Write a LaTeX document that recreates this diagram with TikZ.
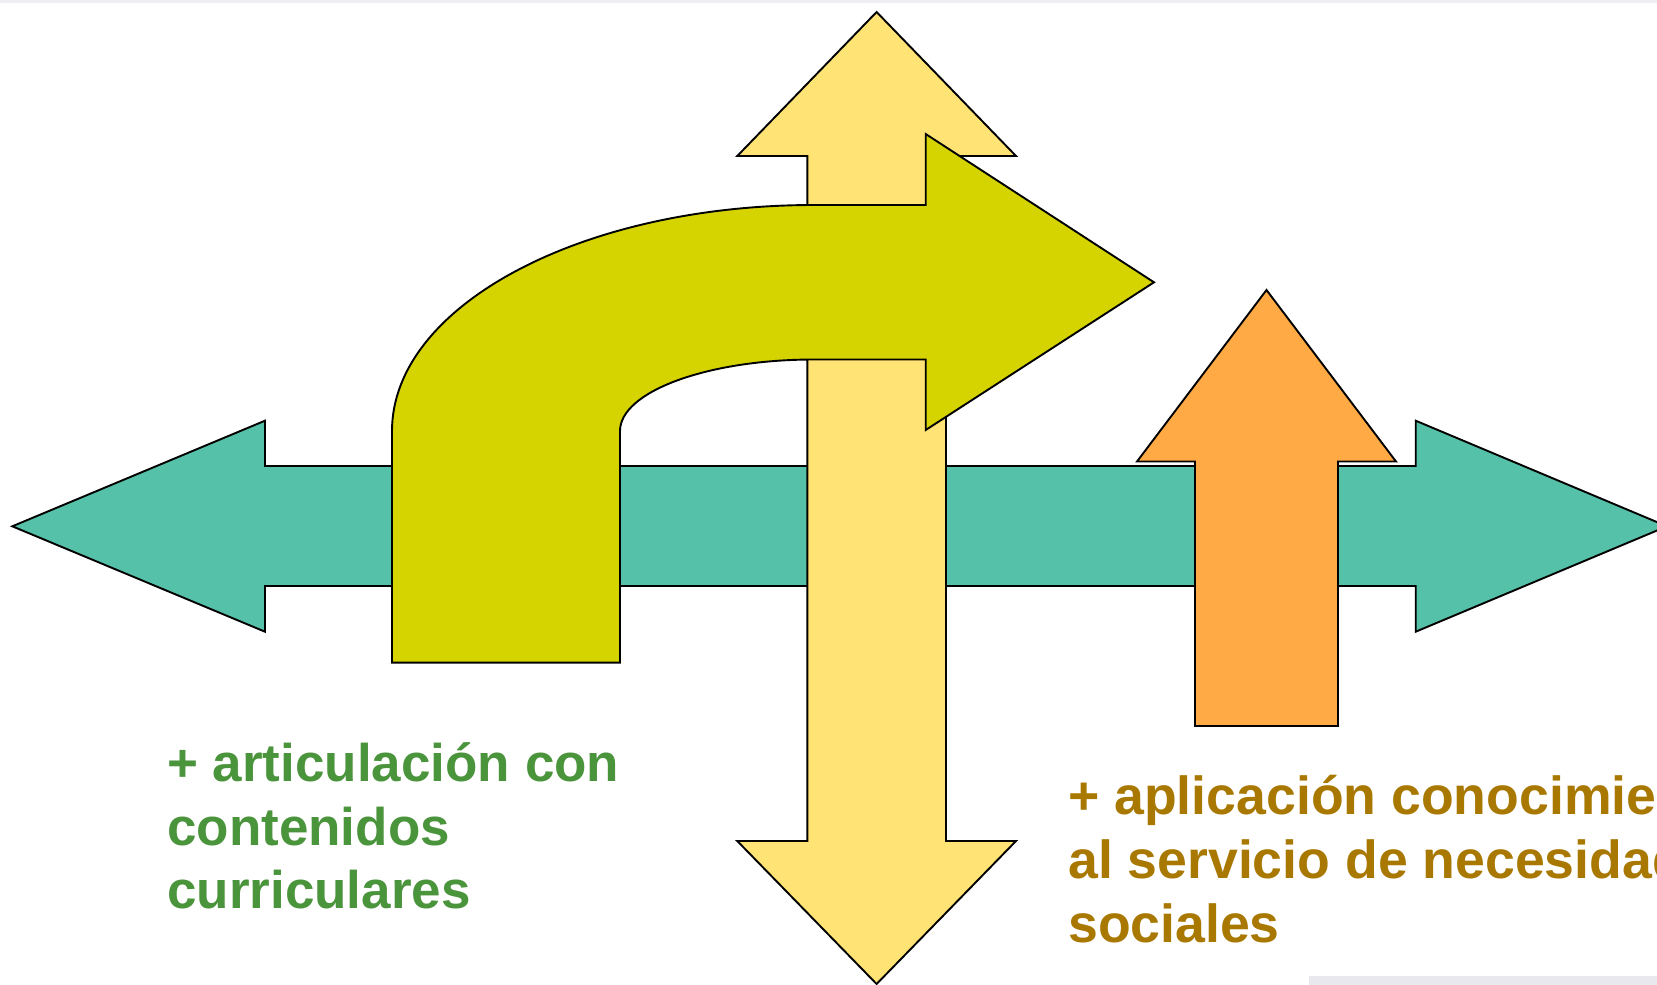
\documentclass[tikz,border=0pt]{standalone}
\usepackage{fontspec}
\setmainfont{Liberation Sans}
\definecolor{teal1}{HTML}{56C1A9}
\definecolor{yel1}{HTML}{FFE475}
\definecolor{olive1}{HTML}{D5D400}
\definecolor{orange1}{HTML}{FFAA44}
\definecolor{gtxt}{HTML}{4A943C}
\definecolor{otxt}{HTML}{A87800}
\definecolor{edgegray}{HTML}{E8E8EE}
\tikzset{
  shapeline/.style={draw=black, line width=1.9pt, line join=miter},
  bigtext/.style={anchor=base west, inner sep=0pt, align=left},
}
\begin{document}
\begin{tikzpicture}[x=1pt,y=-1pt]
\useasboundingbox (0,0) rectangle (1657,985);
\clip (0,0) rectangle (1657,985);
\fill[white] (0,0) rectangle (1657,985);
\fill[edgegray!70] (0,0) rectangle (1657,2.5);
\fill[edgegray] (1309,976) rectangle (1657,985);
% teal horizontal double arrow
\path[shapeline, fill=teal1] (12.3,526.3) -- (265,420.7) -- (265,466) -- (1415.7,466)
  -- (1415.7,420.7) -- (1667,526.3) -- (1415.7,631.7) -- (1415.7,586)
  -- (265,586) -- (265,631.7) -- cycle;
% orange up arrow
\path[shapeline, fill=orange1] (1266.5,290) -- (1396,461.5) -- (1338,461.5)
  -- (1338,726) -- (1195,726) -- (1195,461.5) -- (1137,461.5) -- cycle;
% yellow vertical double arrow
\path[shapeline, fill=yel1] (876.6,12) -- (1016,156) -- (946,156) -- (946,841)
  -- (1016,841) -- (876.6,984) -- (737.3,841) -- (807.3,841) -- (807.3,156)
  -- (737.3,156) -- cycle;
% olive bent arrow
\path[shapeline, fill=olive1] (392,662.6) -- (392,431)
  .. controls (392,306.2) and (580.9,205) .. (814,205)
  -- (925.7,205) -- (925.7,134) -- (1154,282.3) -- (925.7,430)
  -- (925.7,359.5) -- (814,359.5)
  .. controls (706.9,359.5) and (620,391.8) .. (620,431)
  -- (620,662.6) -- cycle;
% texts (base anchor = baseline of last line)
\node[bigtext, text=gtxt, font=\fontsize{53}{63.6}\selectfont\bfseries] (lefttext) at (167,908.6)
  {+ articulación con\\contenidos\\curriculares};
\node[bigtext, text=otxt, font=\fontsize{53.6}{64.2}\selectfont\bfseries] (righttext) at (1068,942.5)
  {+ aplicación conocimientos\\al servicio de necesidades\\sociales};
\end{tikzpicture}
\end{document}
